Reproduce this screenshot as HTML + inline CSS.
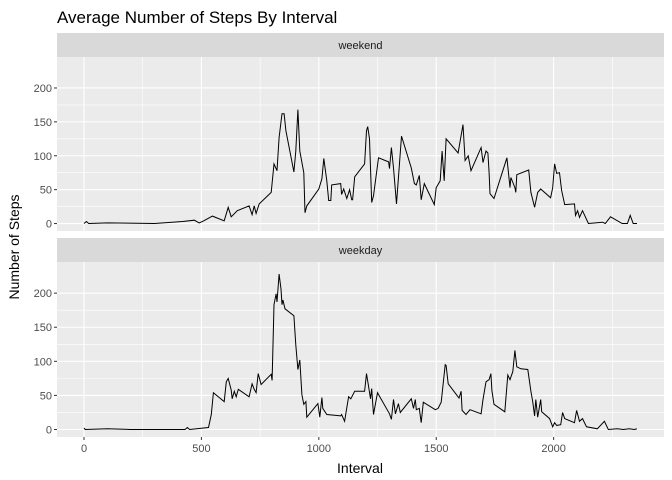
<!DOCTYPE html>
<html><head><meta charset="utf-8"><style>
body{margin:0;background:#fff;}
svg{display:block;font-family:"Liberation Sans",Arial,sans-serif;}
</style></head><body>
<svg id="chart" width="672" height="480">
<text x="57" y="23" font-size="17" fill="#000">Average Number of Steps By Interval</text>
<text x="360" y="473" font-size="14" text-anchor="middle" fill="#000">Interval</text>
<text transform="translate(19,247) rotate(-90)" font-size="14" text-anchor="middle" fill="#000">Number of Steps</text>
</svg>
<script>
const xTicks=[0,500,1000,1500,2000];
const yTicks=[0,50,100,150,200];
const panelNames=["weekend","weekday"];
const weekendX=[0,10,20,100,300,420,470,490,510,547,597,614,627,653,703,716,725,733,746,797,809,822,831,843,852,860,894,902,911,919,936,941,949,1000,1013,1021,1034,1042,1051,1055,1093,1097,1106,1119,1131,1140,1144,1153,1195,1203,1208,1216,1225,1233,1254,1297,1301,1309,1318,1331,1352,1394,1407,1415,1428,1436,1449,1492,1500,1517,1525,1534,1542,1593,1614,1623,1636,1648,1691,1699,1712,1720,1725,1729,1746,1801,1814,1818,1835,1839,1843,1894,1903,1919,1932,1945,1987,1996,2004,2013,2025,2034,2047,2089,2093,2102,2110,2123,2148,2208,2220,2242,2292,2314,2326,2339,2355];
const weekendY=[0,3,0,1,0,3,5,1,4,11,4,24,10,19,26,13,26,15,29,46,88,78,127,162,162,137,76,107,168,107,75,16,26,51,66,96,63,34,34,57,59,43,51,37,50,35,35,69,88,137,143,125,31,41,97,91,81,112,82,29,129,82,59,57,71,35,59,28,53,63,107,63,125,104,146,93,100,78,112,90,107,104,75,44,37,97,53,68,53,46,72,79,46,24,46,51,38,53,88,74,75,49,28,29,12,19,9,19,0,2,0,10,0,0,12,0,0];
const weekdayX=[0,5,100,200,430,440,450,504,530,542,551,597,606,614,627,631,640,648,657,703,716,725,733,742,754,797,801,809,818,822,831,839,843,847,856,894,902,911,919,928,936,945,949,996,1004,1013,1017,1034,1093,1097,1110,1127,1136,1153,1195,1203,1212,1220,1225,1233,1250,1301,1309,1318,1326,1339,1347,1394,1403,1411,1415,1428,1436,1445,1496,1508,1521,1538,1542,1551,1597,1606,1610,1627,1644,1691,1699,1712,1725,1733,1737,1746,1792,1805,1814,1826,1835,1843,1860,1890,1903,1911,1919,1924,1932,1945,1949,1983,1996,2004,2013,2030,2038,2047,2089,2098,2110,2123,2140,2186,2216,2233,2271,2297,2322,2343,2355];
const weekdayY=[2,0,1,0,0,3,0,2,3,22,54,41,70,75,58,45,56,48,59,48,67,59,54,82,66,81,72,183,199,187,228,206,183,190,177,167,124,88,102,51,37,41,18,38,18,47,31,22,20,22,12,48,45,56,56,82,63,45,60,22,54,23,15,44,23,38,25,45,31,44,29,31,10,40,29,31,40,95,94,67,46,56,28,22,29,23,44,70,73,82,57,37,26,80,73,85,116,92,89,88,56,41,20,44,18,44,26,16,4,10,6,7,25,16,10,28,12,16,4,1,12,0,1,0,1,0,1];
const NS="http://www.w3.org/2000/svg";
const svg=document.getElementById("chart");
const L=57,R=664,xMin=-115,xMax=2470,yMin=-11,yMax=245.7;
const xs=v=>L+(v-xMin)/(xMax-xMin)*(R-L);
const panels=[{top:57,bot:231,stripTop:33,xv:weekendX,yv:weekendY},{top:262,bot:437,stripTop:238,xv:weekdayX,yv:weekdayY}];
function mk(tag,attrs,parent){const e=document.createElementNS(NS,tag);for(const k in attrs)e.setAttribute(k,attrs[k]);(parent||svg).appendChild(e);return e;}
panels.forEach((p,pi)=>{
  const ys=v=>p.bot-(v-yMin)/(yMax-yMin)*(p.bot-p.top);
  const g=mk("g",{});
  
  
  const strip=mk("rect",{x:L,y:p.stripTop,width:R-L,height:p.top-p.stripTop,fill:"#d9d9d9"},g);
  
  
  const st=mk("text",{x:(L+R)/2,y:p.stripTop+16,"font-size":"11","text-anchor":"middle",fill:"#1a1a1a"},g);
  st.textContent=panelNames[pi];
  
  
  const bg=mk("rect",{x:L,y:p.top,width:R-L,height:p.bot-p.top,fill:"#ebebeb"},g);
  
  
  for(let i=0;i<yTicks.length-1;i++){const m=(yTicks[i]+yTicks[i+1])/2;mk("line",{x1:L,x2:R,y1:ys(m),y2:ys(m),stroke:"#fff","stroke-width":0.6},g);}
  for(let i=0;i<xTicks.length-1;i++){const m=(xTicks[i]+xTicks[i+1])/2;mk("line",{x1:xs(m),x2:xs(m),y1:p.top,y2:p.bot,stroke:"#fff","stroke-width":0.6},g);}
  mk("line",{x1:xs(2250),x2:xs(2250),y1:p.top,y2:p.bot,stroke:"#fff","stroke-width":0.6},g);
  yTicks.forEach(t=>{
    mk("line",{x1:L,x2:R,y1:ys(t),y2:ys(t),stroke:"#fff","stroke-width":1.1},g);
    mk("line",{x1:L-3,x2:L,y1:ys(t),y2:ys(t),stroke:"#333","stroke-width":1},g);
    const tl=mk("text",{x:L-5,y:ys(t)+4,"font-size":"11","text-anchor":"end",fill:"#4d4d4d"},g);
    tl.textContent=t;
    
    
  });
  xTicks.forEach(t=>{mk("line",{x1:xs(t),x2:xs(t),y1:p.top,y2:p.bot,stroke:"#fff","stroke-width":1.1},g);});
  const pts=p.xv.map((x,i)=>xs(x).toFixed(1)+","+ys(p.yv[i]).toFixed(1)).join(" ");
  const line=mk("polyline",{points:pts,fill:"none",stroke:"#000","stroke-width":1},g);
  
  
});
xTicks.forEach(t=>{
  mk("line",{x1:xs(t),x2:xs(t),y1:437,y2:440,stroke:"#333","stroke-width":1});
  const tl=mk("text",{x:xs(t),y:452,"font-size":"11","text-anchor":"middle",fill:"#4d4d4d"});
  tl.textContent=t;
  
  
});
</script>
</body></html>
